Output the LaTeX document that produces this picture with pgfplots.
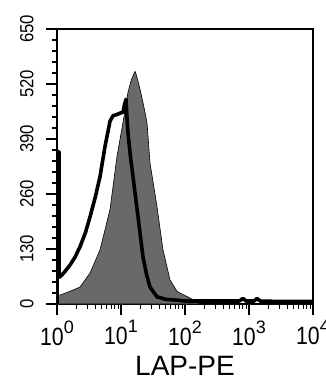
\documentclass[border=0pt]{standalone}
\usepackage{fontspec}
\setmainfont{Liberation Sans}
\newfontfamily\narrowfont[FakeStretch=0.85]{Liberation Sans}
\newfontfamily\ynarrowfont[FakeStretch=0.88]{Liberation Sans}
\usepackage{pgfplots}
\pgfplotsset{compat=1.18}
\definecolor{histgray}{RGB}{105,105,105}
\newcommand\tp[1]{{\narrowfont\fontsize{25pt}{25pt}\selectfont 10\raisebox{12pt}{\normalfont\fontsize{18pt}{18pt}\selectfont #1}}}
\newcommand\yl[1]{{\ynarrowfont\fontsize{19pt}{19pt}\selectfont #1}}
\begin{document}
\begin{tikzpicture}[x=1pt,y=1pt]
\useasboundingbox (0,0) rectangle (325,381);
\begin{axis}[
  at={(57pt,77pt)}, anchor=south west,
  scale only axis, width=256pt, height=275pt,
  xmode=log, xmin=1, xmax=10000, ymin=0, ymax=650,
  axis line style={line width=1.3pt},
  tick pos=left, tick align=outside,
  major tick length=11pt, minor tick length=5pt,
  every tick/.style={black, line width=1.1pt},
  xtick={1,10,100,1000,10000},
  xticklabels={\tp{0},\tp{1},\tp{2},\tp{3},\tp{4}},
  xticklabel shift={2pt},
  ytick={0,130,260,390,520,650},
  yticklabels={\yl{0},\yl{130},\yl{260},\yl{390},\yl{520},\yl{650}},
  minor y tick num=4,
  yticklabel style={rotate=90, anchor=south},
  yticklabel shift={9pt},
  xlabel={LAP-PE},
  xlabel style={at={(axis description cs:0.5,0)}, anchor=center, yshift=-62pt, font=\fontsize{28pt}{28pt}\selectfont},
]
\addplot[draw=black, line width=0.6pt, fill=histgray] coordinates {
(1,0) (1,21) (1.114,21) (1.596,30) (2.286,40) (3.281,73) (4.70,128) (6.73,223)
(8.66,349) (10.74,429) (12.85,500) (14.5,530) (16.56,550) (17.5,540) (19.82,508)
(22.5,470) (25.47,429) (28.38,334) (36.52,230) (45.29,128) (58.34,57) (75,30)
(83.6,26) (119.7,14) (160,3) (200,0) (10000,0)
} \closedcycle;
\addplot[black, line width=3.6pt, line join=round] coordinates {
(1,0) (1,360) (1.08,360) (1.08,64) (1.114,64) (1.3,75) (1.596,92) (1.9,110)
(2.286,135) (2.8,170) (3.281,206) (4.0,255) (4.70,301) (5.62,372) (6.73,432)
(7.5,445) (8.66,448) (10.0,452) (10.74,453) (11.3,470) (11.97,484) (12.4,440)
(12.85,405) (14,350) (15.40,301) (18.45,206) (22.08,111) (25,70) (28.38,40)
(36.52,17) (50,11) (75,9) (100,7) (150,7) (300,7) (700,7) (805,13) (900,7)
(1200,7) (1334,13) (1500,7) (3000,6) (8000,6) (10000,6)
};
\end{axis}
\end{tikzpicture}
\end{document}
